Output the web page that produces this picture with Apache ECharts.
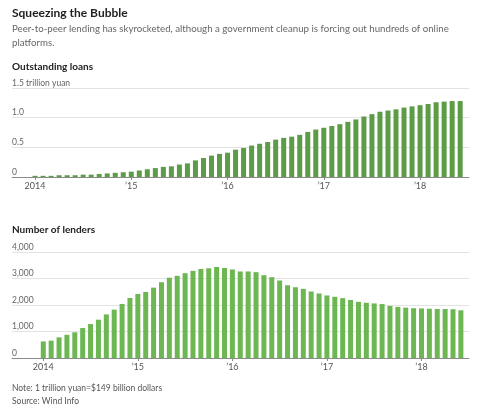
<!DOCTYPE html>
<html>
<head>
<meta charset="utf-8">
<script src="https://cdn.jsdelivr.net/npm/echarts@6/dist/echarts.min.js"></script>
<style>
html,body{margin:0;padding:0;background:#fff;}
#c{width:480px;height:414px;}
</style>
</head>
<body>
<div id="c"></div>
<script>
// Monthly, Jan 2014 – Jun 2018
const loans = [
  0.02,0.02,0.02,0.03,0.03,0.03,0.04,0.04,0.05,0.06,0.07,0.08,
  0.09,0.11,0.13,0.15,0.17,0.18,0.21,0.23,0.28,0.32,0.36,0.39,
  0.41,0.46,0.49,0.53,0.56,0.59,0.63,0.66,0.68,0.71,0.76,0.80,
  0.83,0.86,0.89,0.93,0.97,1.02,1.06,1.10,1.12,1.14,1.17,1.19,
  1.21,1.23,1.26,1.27,1.28,1.28
];
const lenders = [
  625,655,780,875,970,1130,1280,1445,1645,1825,2040,2265,
  2415,2490,2655,2860,3030,3100,3200,3290,3360,3385,3435,3395,
  3340,3265,3265,3240,3125,3050,2925,2745,2670,2610,2510,2435,
  2360,2310,2260,2190,2120,2085,2060,2035,1965,1930,1900,1880,
  1870,1860,1850,1850,1840,1800
];
const yearTickIdx = [0,12,24,36,48];
const yearLabels = ['2014','\u201915','\u201916','\u201917','\u201918'];
const loanTicks = [0,0.5,1.0,1.5];
const lenderTicks = [0,1000,2000,3000,4000];

const FONT = 'Lato, "Noto Sans", sans-serif';
const chart = echarts.init(document.getElementById('c'), null, {renderer:'canvas'});

function xAxisCfg(gridIndex, min, max){
  return {
    type:'value', gridIndex, min, max,
    splitLine:{show:false},
    axisLine:{show:true, lineStyle:{color:'#8a8a8a', width:1}},
    axisTick:{show:true, length:3, customValues:yearTickIdx, lineStyle:{color:'#8a8a8a'}},
    axisLabel:{show:true, customValues:yearTickIdx, margin:5, fontSize:9, color:'#555', fontFamily:FONT,
      formatter:(v)=>{const k=yearTickIdx.indexOf(Math.round(v)); return k>=0?yearLabels[k]:'';}}
  };
}
function yAxisCfg(gridIndex, ticks, fmt){
  return {
    type:'value', gridIndex, min:ticks[0], max:ticks[ticks.length-1], interval:ticks[1]-ticks[0],
    axisLine:{show:false}, axisTick:{show:false},
    splitLine:{show:true, lineStyle:{color:'#e3e3e3', width:1}},
    axisLabel:{inside:true, margin:0, align:'left', verticalAlign:'bottom', padding:0, lineHeight:10,
      fontSize:8.5, color:'#666', fontFamily:FONT, formatter:fmt}
  };
}

chart.setOption({
  animation:false,
  backgroundColor:'#fff',
  title:[
    {text:'Squeezing the Bubble', left:7, top:2, textStyle:{fontSize:12, fontWeight:'bold', color:'#222', fontFamily:FONT}},
    {text:'Peer-to-peer lending has skyrocketed, although a government cleanup is forcing out hundreds of online\nplatforms.', left:7, top:17,
      textStyle:{fontSize:9.7, fontWeight:'normal', color:'#666', lineHeight:13.7, fontFamily:FONT}},
    {text:'Outstanding loans', left:7, top:57, textStyle:{fontSize:10, fontWeight:'bold', color:'#222', fontFamily:FONT}},
    {text:'Number of lenders', left:7, top:220, textStyle:{fontSize:10, fontWeight:'bold', color:'#222', fontFamily:FONT}},
    {text:'Note: 1 trillion yuan=$149 billion dollars\nSource: Wind Info', left:7, top:377,
      textStyle:{fontSize:8.5, fontWeight:'normal', color:'#555', lineHeight:13, fontFamily:FONT}}
  ],
  grid:[
    {left:12, right:11, top:88, bottom:237},
    {left:12, right:11, top:252, bottom:56}
  ],
  xAxis:[ xAxisCfg(0, -2.87, 54.1), xAxisCfg(1, -3.97, 54.03) ],
  yAxis:[
    yAxisCfg(0, loanTicks, (v)=> v===0?'0':(v===1.5?'1.5 trillion yuan':v.toFixed(1))),
    yAxisCfg(1, lenderTicks, (v)=> v===0?'0':v.toLocaleString('en-US'))
  ],
  series:[
    {type:'bar', xAxisIndex:0, yAxisIndex:0, barWidth:5, itemStyle:{color:'#5c9c47'},
      data: loans.map((v,i)=>[i,v])},
    {type:'bar', xAxisIndex:1, yAxisIndex:1, barWidth:5, itemStyle:{color:'#6cb752'},
      data: lenders.map((v,i)=>[i,v])}
  ]
});
</script>
</body>
</html>
